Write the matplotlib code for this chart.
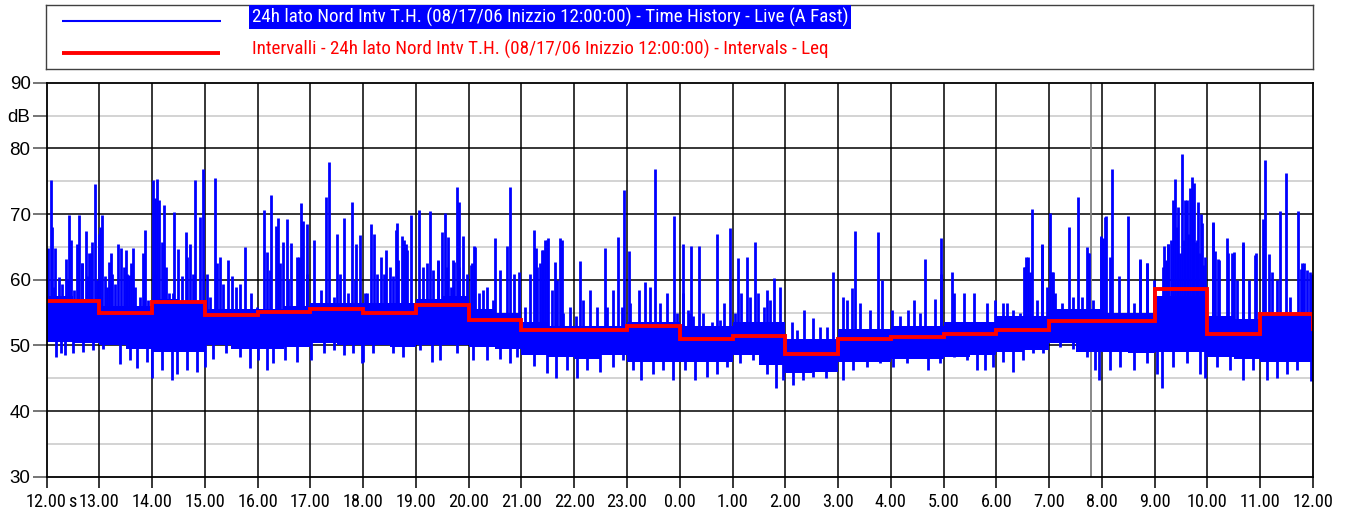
import numpy as np
import matplotlib
matplotlib.use("Agg")
import matplotlib.pyplot as plt
from matplotlib import font_manager as fm

# ---------------- data ----------------
hour_labels = ["12.00", "13.00", "14.00", "15.00", "16.00", "17.00", "18.00",
               "19.00", "20.00", "21.00", "22.00", "23.00", "0.00", "1.00",
               "2.00", "3.00", "4.00", "5.00", "6.00", "7.00", "8.00", "9.00",
               "10.00", "11.00", "12.00"]

y_major = [30, 40, 50, 60, 70, 80, 90]
y_minor = [35, 45, 55, 65, 75, 85]

# hourly Leq (red step line), hours since 12:00
leq = [56.8, 55.0, 56.6, 54.6, 55.1, 55.5, 55.0, 56.1, 53.8, 52.4, 52.4, 53.0,
       51.0, 51.5, 48.7, 50.9, 51.3, 51.7, 52.3, 53.7, 53.7, 58.6, 51.8, 54.8]
leq_end = 52.5

# dense core band of the time history, per half hour
core_lo = [50.5, 50.3, 50.0, 49.5, 49.0, 49.0, 50.0, 49.5, 49.5, 49.8, 50.3, 50.0,
           50.0, 49.8, 50.0, 50.0, 49.8, 49.5, 48.5, 48.3, 48.0, 48.5, 47.5, 47.5,
           47.5, 47.5, 48.5, 47.0, 45.8, 46.0, 47.5, 47.5, 48.0, 48.0, 48.3, 48.5,
           49.0, 49.3, 50.3, 49.0, 49.0, 48.8, 49.0, 49.0, 48.3, 48.0, 47.5, 47.5]
core_hi = [57.5, 57.0, 56.0, 56.0, 57.0, 56.5, 55.5, 55.5, 55.5, 56.0, 56.5, 56.5,
           56.5, 56.5, 57.0, 57.5, 55.5, 55.0, 53.5, 53.0, 53.0, 53.0, 53.5, 53.5,
           53.0, 53.0, 53.5, 53.5, 51.0, 51.0, 52.5, 52.5, 53.0, 53.0, 53.5, 53.5,
           54.5, 54.5, 55.5, 55.5, 55.0, 55.0, 57.5, 57.5, 54.5, 54.0, 55.0, 55.0]

# upward peaks (hours since 12:00, dB)
peaks = [
    (0.03, 64.8), (0.08, 75.2), (0.10, 68.0), (0.17, 64.8), (0.37, 63.1), (0.43, 69.9),
    (0.47, 66.0), (0.57, 65.4), (0.61, 69.9), (0.68, 62.6), (0.74, 67.4), (0.80, 64.0),
    (0.86, 65.7), (0.92, 74.6), (0.99, 67.0), (1.01, 68.0), (1.06, 69.9), (1.18, 62.7),
    (1.22, 64.0), (1.36, 65.5), (1.41, 64.9), (1.51, 64.5), (1.56, 60.7), (1.64, 64.8),
    (1.82, 64.0), (1.87, 67.5), (2.01, 75.2), (2.05, 72.5), (2.10, 75.3), (2.14, 72.2),
    (2.18, 65.7), (2.23, 71.3), (2.42, 70.3), (2.49, 64.7), (2.64, 67.2), (2.72, 65.5),
    (2.82, 75.2), (2.91, 69.5), (2.97, 76.9), (3.19, 75.5), (3.23, 62.5), (3.28, 63.5),
    (3.43, 63.0), (3.77, 65.0), (4.13, 70.6), (4.17, 64.2), (4.26, 72.9), (4.34, 68.2),
    (4.39, 69.4), (4.48, 65.8), (4.55, 69.2), (4.64, 65.6), (4.78, 63.4), (4.83, 71.7),
    (4.87, 69.0), (4.94, 68.5), (5.07, 66.0), (5.30, 72.6), (5.36, 77.9), (5.51, 67.0),
    (5.63, 69.4), (5.78, 71.9), (5.87, 65.4), (5.94, 66.8), (6.14, 68.5), (6.21, 66.9),
    (6.43, 64.5), (6.62, 67.6), (6.65, 68.6), (6.74, 66.7), (6.81, 65.4), (6.91, 69.9),
    (7.05, 70.6), (7.27, 70.5), (7.42, 62.9),
    (7.50, 67.3), (7.56, 70.2), (7.60, 66.5), (7.72, 62.7), (7.78, 74.1), (7.81, 71.9),
    (7.89, 66.7), (8.05, 62.3), (8.11, 65.1), (8.49, 66.4), (8.72, 65.2), (8.78, 74.1),
    (8.96, 61.1), (9.23, 67.6), (9.27, 64.8), (9.35, 62.6), (9.40, 64.5), (9.45, 66.1),
    (9.50, 66.3), (9.64, 62.7), (9.73, 66.3), (9.77, 66.0), (10.11, 62.8), (10.58, 64.9),
    (10.83, 66.5), (10.95, 73.7), (11.03, 64.3), (11.54, 76.9), (11.90, 69.7), (12.06, 65.4),
    (12.22, 65.1), (12.37, 65.2), (12.70, 67.0), (12.96, 67.9), (13.11, 63.3), (13.28, 63.5),
    (13.42, 65.8), (14.90, 61.1), (15.33, 67.4), (15.76, 67.2),
    (16.64, 63.1), (16.96, 66.3), (17.15, 61.2), (18.52, 62.0), (18.56, 63.5), (18.64, 61.2),
    (18.68, 70.8), (18.87, 65.4), (19.02, 70.1), (19.08, 61.2), (19.37, 68.1), (19.54, 72.6),
    (19.71, 65.0), (19.75, 64.1), (19.98, 66.6), (20.03, 66.3), (20.07, 69.7), (20.19, 76.8),
    (20.50, 69.7), (20.72, 63.1), (20.86, 62.5), (21.18, 65.2), (21.25, 65.4), (21.35, 72.1),
    (21.39, 75.3), (21.45, 71.0), (21.51, 79.1), (21.57, 72.2), (21.67, 73.9), (21.70, 75.6),
    (21.75, 74.7), (21.78, 65.8), (21.83, 71.8), (21.87, 70.0), (21.92, 62.2), (22.10, 68.8),
    (22.14, 64.4), (22.20, 63.2), (22.37, 66.3), (22.39, 64.0), (22.50, 64.2), (22.68, 65.7),
    (22.92, 64.0), (23.05, 69.3), (23.09, 78.2), (23.17, 63.9), (23.38, 70.5), (23.49, 76.3),
    (23.72, 70.5), (23.78, 61.7), (23.82, 62.6), (23.95, 61.1),
    (0.15, 58.9), (0.23, 60.4), (0.29, 59.4), (0.41, 59.9), (0.52, 58.4), (0.67, 62.5),
    (0.76, 60.5), (0.84, 64.0), (0.96, 59.9), (1.11, 60.5), (1.14, 58.9), (1.25, 60.9),
    (1.30, 59.4), (1.46, 62.0), (1.53, 60.9), (1.60, 62.5), (1.68, 58.9), (1.77, 57.4),
    (1.93, 56.9), (2.06, 60.9), (2.26, 62.0), (2.33, 57.9), (2.40, 57.9), (2.56, 60.5),
    (2.67, 63.5), (2.78, 60.9), (3.04, 60.9), (3.10, 57.4), (3.34, 59.4), (3.51, 60.5),
    (3.59, 58.9), (3.67, 59.4), (3.87, 57.9), (3.98, 55.9), (4.24, 61.5), (4.42, 62.5),
    (4.58, 59.9), (4.74, 63.5), (4.93, 60.9), (5.21, 58.4), (5.44, 57.4), (5.56, 60.9),
    (5.72, 57.9), (5.85, 59.9), (6.04, 57.9),
    (6.07, 57.9), (6.13, 55.9), (6.26, 60.9), (6.34, 63.5), (6.40, 60.9), (6.50, 62.0),
    (6.56, 60.5), (6.67, 63.0), (6.78, 66.0), (6.84, 64.5), (7.14, 62.0), (7.21, 62.5),
    (7.32, 61.5), (7.41, 63.0), (7.58, 62.0), (7.66, 58.9), (7.71, 63.0), (7.82, 62.0),
    (7.97, 60.9), (8.06, 62.5), (8.12, 65.0), (8.20, 57.9), (8.28, 58.4), (8.34, 58.9),
    (8.47, 56.9), (8.59, 61.5), (8.85, 60.9), (9.07, 55.9), (9.17, 60.9), (9.29, 62.0),
    (9.39, 64.5), (9.48, 66.0), (9.57, 58.4), (9.67, 59.9), (9.79, 54.9), (9.92, 55.9),
    (10.03, 54.4), (10.17, 56.9), (10.30, 58.4), (10.43, 55.9), (10.62, 55.9), (10.74, 58.4),
    (10.90, 55.9), (11.06, 56.4), (11.22, 58.4), (11.34, 59.7), (11.44, 58.9), (11.63, 56.4),
    (11.75, 57.9), (11.94, 54.9), (12.17, 54.9),
    (12.07, 57.9), (12.16, 55.4), (12.26, 54.4), (12.45, 54.9), (12.61, 53.6), (12.76, 53.8),
    (12.83, 56.4), (13.05, 54.9), (13.17, 57.9), (13.33, 57.4), (13.49, 57.9), (13.59, 55.9),
    (13.66, 58.4), (13.71, 56.9), (13.79, 60.2), (13.90, 58.9), (14.12, 53.6), (14.22, 52.3),
    (14.36, 55.4), (14.53, 54.1), (14.66, 52.8), (14.79, 52.8), (15.10, 57.4), (15.17, 56.9),
    (15.26, 58.7), (15.42, 56.4), (15.61, 55.4), (15.83, 59.9), (16.02, 55.4), (16.18, 54.4),
    (16.33, 55.4), (16.43, 56.9), (16.55, 54.9), (16.84, 57.1), (16.96, 60.9), (17.19, 57.9),
    (17.38, 57.9), (17.57, 57.9), (17.82, 56.4), (17.98, 56.9), (18.13, 56.4),
    (18.20, 56.4), (18.32, 55.4), (18.45, 54.9), (18.54, 62.0), (18.60, 63.5), (18.77, 56.9),
    (18.86, 65.3), (18.96, 58.9), (19.05, 61.2), (19.11, 57.9), (19.24, 56.4), (19.46, 57.4),
    (19.62, 57.4), (19.73, 64.0), (19.84, 56.9), (19.98, 66.5), (20.06, 69.6), (20.16, 63.5),
    (20.33, 60.5), (20.60, 56.4), (20.73, 63.0), (20.86, 62.5), (20.98, 59.9), (21.26, 65.5),
    (21.61, 72.1), (21.89, 68.6), (21.96, 63.5), (22.11, 68.6), (22.21, 63.0), (22.46, 64.0),
    (22.56, 59.9), (22.67, 65.5), (22.78, 59.9), (22.90, 63.7), (23.22, 61.2), (23.31, 59.9),
    (23.57, 57.4), (23.79, 62.5), (23.88, 61.5), (23.98, 60.9),
    (21.15, 62.0), (21.22, 63.0), (21.30, 66.0), (21.42, 68.0), (21.48, 64.0), (21.55, 66.0),
    (21.63, 67.0), (21.72, 69.0), (21.80, 66.0), (21.85, 64.0),
]

# downward dips (hours since 12:00, dB)
dips = [
    (0.07, 50.8), (0.18, 48.3), (0.27, 48.8), (0.35, 48.5), (0.51, 48.8), (0.70, 49.0),
    (0.89, 49.3), (1.08, 49.5), (1.39, 47.2), (1.58, 47.8), (1.71, 46.5), (1.90, 47.5),
    (2.00, 45.1), (2.18, 46.2), (2.37, 44.8), (2.47, 45.7), (2.66, 46.2), (2.85, 46.0),
    (3.00, 46.7), (3.16, 48.0), (3.41, 48.8), (3.67, 48.3), (3.86, 46.6), (4.01, 47.8),
    (4.17, 46.3), (4.30, 47.3), (4.52, 47.8), (4.74, 47.5), (5.01, 47.8), (5.25, 48.8),
    (5.44, 49.3), (5.63, 48.5), (5.81, 48.8), (5.97, 47.3),
    (6.00, 47.5), (6.19, 48.8), (6.57, 48.8), (6.76, 48.3), (7.08, 49.3), (7.30, 47.5),
    (7.46, 47.8), (7.77, 48.8), (8.09, 47.8), (8.34, 47.8), (8.59, 48.0), (8.78, 47.3),
    (8.91, 48.3), (9.23, 46.8), (9.48, 45.8), (9.66, 45.0), (9.86, 46.2), (10.05, 45.0),
    (10.24, 46.2), (10.49, 46.0), (10.74, 46.7), (10.93, 47.8), (11.12, 46.2), (11.27, 44.7),
    (11.50, 45.7), (11.69, 46.2), (11.88, 44.8), (12.10, 46.2),
    (12.29, 44.7), (12.51, 45.2), (12.70, 45.7), (12.89, 46.7), (13.14, 47.3), (13.39, 47.8),
    (13.65, 45.7), (13.82, 43.5), (13.96, 44.7), (14.15, 44.0), (14.34, 44.7), (14.53, 45.2),
    (14.78, 45.0), (15.10, 44.8), (15.29, 46.2), (15.54, 46.7), (15.80, 47.3), (16.05, 46.7),
    (16.30, 47.3), (16.71, 46.2), (16.93, 47.3), (17.19, 48.3), (17.44, 47.8), (17.63, 46.2),
    (17.79, 46.2), (17.94, 46.7),
    (18.13, 47.5), (18.32, 46.0), (18.51, 47.8), (18.70, 48.8), (18.89, 48.8), (19.21, 49.8),
    (19.46, 49.5), (19.71, 48.3), (19.87, 46.2), (19.95, 44.8), (20.16, 46.2), (20.34, 46.7),
    (20.60, 46.2), (20.85, 47.3), (21.04, 45.7), (21.13, 43.5), (21.35, 46.7), (21.61, 47.3),
    (21.86, 45.7), (21.96, 45.0), (22.18, 46.7), (22.43, 46.2), (22.68, 44.7), (22.87, 46.2),
    (23.13, 44.7), (23.31, 45.0), (23.50, 45.7), (23.69, 46.2), (23.96, 44.5),
]

marker_time = 19.79   # grey cursor line (~07:47)

label_th = "24h lato Nord Intv T.H. (08/17/06 Inizzio 12:00:00) - Time History - Live (A Fast)"
label_leq = "Intervalli - 24h lato Nord Intv T.H. (08/17/06 Inizzio 12:00:00) - Intervals - Leq"

# ---------------- fonts ----------------
_names = sorted({f.name for f in fm.fontManager.ttflist})
_pref = ["Liberation Sans Narrow", "Arial Narrow", "Roboto Condensed",
         "Open Sans Condensed", "Noto Sans Condensed", "Lato Condensed"]
narrow_name = None
for n in _pref:
    if n in _names:
        narrow_name = n
        break
if narrow_name is None:
    for n in _names:
        if "Narrow" in n or "Condensed" in n:
            narrow_name = n
            break
narrow = ([narrow_name] if narrow_name else []) + ["Liberation Sans", "DejaVu Sans"]
regular = ["Liberation Sans", "DejaVu Sans"]

# ---------------- figure ----------------
W, H = 1345, 517
BLUE = "#0000ff"
RED = "#ff0000"

fig = plt.figure(figsize=(W / 100, H / 100), dpi=100)
fig.patch.set_facecolor("white")

# size the narrow axis font so that "12.00" is about 41 px wide
_probe = fig.text(0, 0, "12.00", fontsize=15, family=narrow)
fig.canvas.draw()
xfs = min(16.5, 15 * 41.0 / _probe.get_window_extent().width)
_probe.remove()

ax_l, ax_r, ax_t, ax_b = 46.5, 1313.0, 82.7, 476.7
ax = fig.add_axes([ax_l / W, 1 - ax_b / H, (ax_r - ax_l) / W, (ax_b - ax_t) / H])
ax.set_xlim(0, 24)
ax.set_ylim(30, 90)

# grid
for yv in y_minor:
    ax.axhline(yv, color="#c8c8c8", lw=1.1, zorder=0.4)
for yv in y_major[1:-1]:
    ax.axhline(yv, color="black", lw=1.1, zorder=0.5)
for hv in range(1, 24):
    ax.axvline(hv, color="black", lw=1.1, zorder=0.5)
ax.axvline(marker_time, color="#808080", lw=1.3, zorder=0.6)

# time history: core band + peaks + dips
core_lo_a = np.array(core_lo)
core_hi_a = np.array(core_hi)
edges = np.arange(len(core_lo) + 1) * 0.5
ax.fill_between(edges, np.append(core_lo_a, core_lo_a[-1]),
                np.append(core_hi_a, core_hi_a[-1]), step="post",
                color=BLUE, lw=0, zorder=2)

def core_mid(t):
    i = min(int(t * 2), len(core_lo) - 1)
    return (core_lo[i] + core_hi[i]) / 2.0

pt = [p[0] for p in peaks]
pv = [p[1] for p in peaks]
ax.vlines(pt, [core_mid(t) for t in pt], pv, colors=BLUE, lw=2.0,
          capstyle="butt", zorder=2)
dt = [d[0] for d in dips]
dv = [d[1] for d in dips]
ax.vlines(dt, [core_mid(t) for t in dt], dv, colors=BLUE, lw=2.0,
          capstyle="butt", zorder=2)

# Leq steps
ax.plot(np.arange(len(leq) + 1), leq + [leq_end], drawstyle="steps-post",
        color=RED, lw=2.8, zorder=3, solid_joinstyle="miter")

# axes styling
for s in ax.spines.values():
    s.set_color("black")
    s.set_linewidth(1.3)
    s.set_zorder(4)

ax.set_xticks(range(25))
ax.set_xticklabels(hour_labels, fontsize=xfs, family=narrow)
ax.tick_params(axis="x", length=8, width=1.1, color="black", pad=3.5)

yt = y_major[:-1] + [85, 90]
ylab = [str(v) for v in y_major[:-1]] + ["dB", "90"]
ax.set_yticks(yt)
ax.set_yticklabels(ylab, fontsize=13.5, family=regular)
ax.tick_params(axis="y", length=10, width=1.1, color="#505050", pad=1.5)
for tk, v in zip(ax.yaxis.get_major_ticks(), yt):
    if v == 85:
        tk.tick1line.set_color("#c8c8c8")

fig.text(72.5 / W, 1 - 502 / H, "s", ha="center", va="center",
         fontsize=xfs, family=narrow)

# legend box
lg_l, lg_r, lg_t, lg_b = 46.0, 1313.0, 5.0, 69.0
lax = fig.add_axes([lg_l / W, 1 - lg_b / H, (lg_r - lg_l) / W, (lg_b - lg_t) / H])
lax.set_xlim(0, lg_r - lg_l)
lax.set_ylim(lg_b - lg_t, 0)
lax.set_xticks([])
lax.set_yticks([])
for s in lax.spines.values():
    s.set_color("#404040")
    s.set_linewidth(1.0)
lax.plot([16, 175], [16, 16], color=BLUE, lw=1.5, solid_capstyle="butt")
lax.plot([16, 174], [47.7, 47.7], color=RED, lw=2.8, solid_capstyle="butt")
fs = 13.0
t1 = lax.text(206, 12.2, label_th, color="white", ha="left", va="center",
              fontsize=fs, family=narrow,
              bbox=dict(boxstyle="square,pad=0.14", fc=BLUE, ec="none"))
t2 = lax.text(206, 44.5, label_leq, color=RED, ha="left", va="center",
              fontsize=fs, family=narrow)
fig.canvas.draw()
w1 = t1.get_window_extent().width
fs2 = fs * 593.0 / w1
t1.set_fontsize(fs2)
t2.set_fontsize(fs2)

fig.savefig("out.png", dpi=100, facecolor="white")
